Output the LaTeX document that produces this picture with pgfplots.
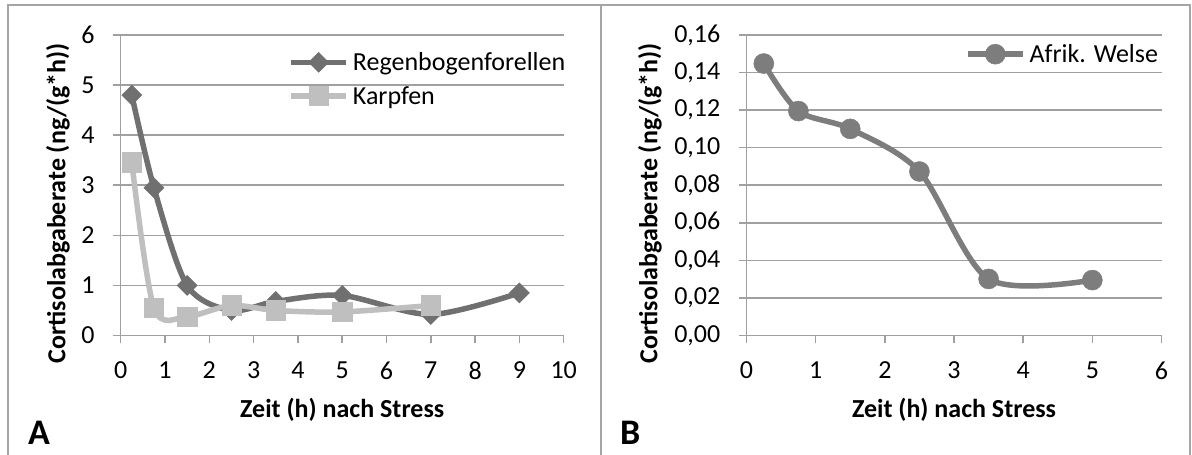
\documentclass[border=0pt]{standalone}
\usepackage{fontspec}
\setmainfont{Carlito}
\usepackage{pgfplots}
\pgfplotsset{compat=1.18}

\definecolor{gridgray}{RGB}{160,160,160}
\definecolor{framegray}{RGB}{165,165,165}
\definecolor{forelle}{RGB}{112,112,112}
\definecolor{karpfen}{RGB}{191,191,191}
\definecolor{wels}{RGB}{125,125,125}

\newcommand{\chartfont}{\fontsize{26bp}{31bp}\selectfont}

\pgfplotsset{
  excelpanel/.style={
    scale only axis, anchor=south west,
    axis lines*=left,
    axis line style={gridgray, line width=1.5bp},
    ymajorgrids, grid style={gridgray, line width=1.5bp},
    tick style={gridgray, line width=1.5bp},
    tick align=outside, major tick length=8bp,
    tick label style={font=\chartfont, inner sep=0pt, text=black},
    /pgf/number format/assume math mode=true,
    xticklabel shift=18bp, yticklabel shift=18bp,
    label style={font=\chartfont\bfseries},
    xlabel style={at={(axis description cs:0.5,-0.248)}, anchor=center},
    legend style={draw=none, fill=none, inner sep=0pt, font=\chartfont,
      row sep=14bp, column sep=4bp, anchor=north east,
      nodes={inner sep=0pt}},
    legend cell align=left,
    legend image code/.code={\draw[#1, mark repeat=2, mark phase=2]
      plot coordinates {(0bp,0bp) (27.5bp,0bp) (55bp,0bp)};},
    clip=false,
  }
}

\begin{document}
\begin{tikzpicture}[x=1bp, y=1bp]
\useasboundingbox (0,0) rectangle (1192,455);
% panel frames
\draw[framegray, line width=2bp] (8,-10) -- (8,450) -- (1190,450) -- (1190,-10);
\draw[framegray, line width=2bp] (600.5,-10) -- (600.5,450);

% Panel A
\begin{axis}[excelpanel,
  at={(120.7bp,119.5bp)}, width=443bp, height=300.5bp,
  xmin=0, xmax=10, ymin=0, ymax=6,
  xtick={0,1,...,10}, ytick={0,1,...,6},
  xlabel={Zeit (h) nach Stress},
  ylabel={Cortisolabgaberate (ng/(g*h))},
  ylabel style={at={(axis description cs:-0.1415,0.44)}, anchor=center},
  legend style={at={(axis description cs:1.004,0.943)}},
]
\addplot[forelle, line width=5.5bp, smooth, mark=square*, mark size=7.07bp,
  mark options={rotate=45, line width=0.5bp}]
  coordinates {(0.25,4.8) (0.75,2.95) (1.5,1.0) (2.5,0.5) (3.5,0.68) (5,0.8) (7,0.42) (9,0.85)};
\addlegendentry{Regenbogenforellen}
\addplot[karpfen, line width=5.5bp, smooth, mark=square*, mark size=9.7bp,
  mark options={line width=0.5bp}]
  coordinates {(0.25,3.46) (0.75,0.55) (1.5,0.38) (2.5,0.6) (3.5,0.5) (5,0.47) (7,0.6)};
\addlegendentry{Karpfen}
\end{axis}
\node[font=\fontsize{36bp}{40bp}\selectfont\bfseries, anchor=base west, inner sep=0pt] at (28,10) {A};

% Panel B
\begin{axis}[excelpanel,
  at={(746.5bp,119.5bp)}, width=415bp, height=300.5bp,
  xmin=0, xmax=6, ymin=0, ymax=0.16,
  xtick={0,1,...,6}, ytick={0,0.02,...,0.16},
  yticklabel style={/pgf/number format/.cd, fixed, fixed zerofill, precision=2, use comma},
  scaled y ticks=false,
  xlabel={Zeit (h) nach Stress},
  ylabel={Cortisolabgaberate (ng/(g*h))},
  ylabel style={at={(axis description cs:-0.2325,0.44)}, anchor=center},
  legend style={at={(axis description cs:0.992,0.970)}},
]
\addplot[wels, line width=5.5bp, smooth, mark=*, mark size=10bp,
  mark options={line width=0.5bp}]
  coordinates {(0.25,0.1448) (0.75,0.1195) (1.5,0.110) (2.5,0.0873) (3.5,0.0301) (5,0.0295)};
\addlegendentry{Afrik. Welse}
\end{axis}
\node[font=\fontsize{36bp}{40bp}\selectfont\bfseries, anchor=base west, inner sep=0pt] at (620,10) {B};
\end{tikzpicture}
\end{document}
